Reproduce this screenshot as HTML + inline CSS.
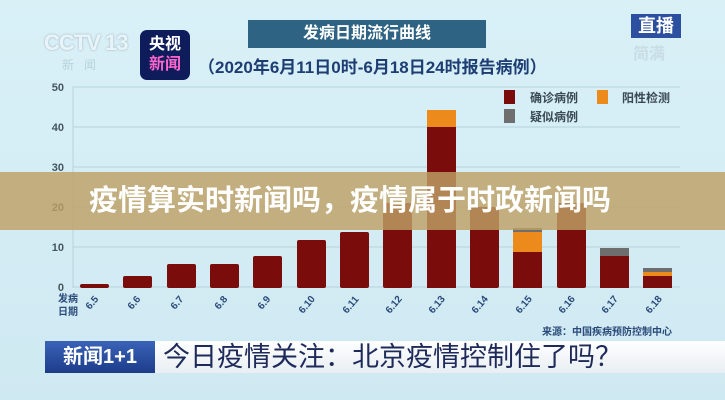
<!DOCTYPE html>
<html><head><meta charset="utf-8"><style>
body{margin:0;width:725px;height:400px;overflow:hidden;background:#d3ecf4;font-family:"Liberation Sans","Noto Sans CJK SC",sans-serif;position:relative}
.a{position:absolute}
</style></head><body>
<div class="a" style="left:0;top:0;width:725px;height:400px;background:linear-gradient(#d9f0f7,#cfe9f2)"></div>
<div class="a" style="left:44px;top:30px;color:#e8f4f8;font:bold 22px 'Liberation Sans';letter-spacing:-1px;text-shadow:0 0 2px #9ab">CCTV 13</div>
<div class="a" style="left:62px;top:56px;color:#b9d3dc;font-size:12px;letter-spacing:10px">新闻</div>
<div class="a" style="left:140px;top:30px;width:50px;height:50px;background:#0f1c5c;border-radius:7px;color:#fff;font-weight:bold;font-size:16px;line-height:20px;text-align:center;padding-top:5px;box-sizing:border-box">央视<br><span style="color:#f6c">新闻</span></div>
<div class="a" style="left:248px;top:20px;width:238px;height:28px;background:#2f6383;color:#fff;font-weight:bold;font-size:16px;line-height:28px;text-align:center">发病日期流行曲线</div>
<div class="a" style="left:198px;top:53px;color:#1d3d73;font-weight:bold;font-size:17px">（2020年6月11日0时-6月18日24时报告病例）</div>
<div class="a" style="left:631px;top:14px;width:50px;height:24px;background:#2c4fa0;color:#fff;font-weight:bold;font-size:18px;line-height:24px;text-align:center">直播</div>
<div class="a" style="left:633px;top:40px;color:#c8dde4;font-size:16px;font-weight:bold">简满</div>
<svg class="a" style="left:0;top:0" width="725" height="400">
<g stroke="#b7d3dd" stroke-width="1">
<line x1="73" y1="87" x2="680" y2="87"/><line x1="73" y1="127" x2="680" y2="127"/><line x1="73" y1="167" x2="680" y2="167"/><line x1="73" y1="207" x2="680" y2="207"/><line x1="73" y1="247" x2="680" y2="247"/><line x1="73" y1="287" x2="680" y2="287"/>
<line x1="73" y1="87" x2="73" y2="288"/></g>
<g font-size="11" fill="#44555e" font-weight="bold" text-anchor="end">
<text x="64" y="91">50</text><text x="64" y="131">40</text><text x="64" y="171">30</text><text x="64" y="211">20</text><text x="64" y="251">10</text><text x="64" y="291">0</text></g>
<g fill="#7a0c0c">
<rect x="80" y="284" width="29" height="4" rx="2"/>
<rect x="123" y="276" width="29" height="12" rx="2"/>
<rect x="167" y="264" width="29" height="24" rx="2"/>
<rect x="210" y="264" width="29" height="24" rx="2"/>
<rect x="253" y="256" width="29" height="32" rx="2"/>
<rect x="297" y="240" width="29" height="48" rx="2"/>
<rect x="340" y="232" width="29" height="56" rx="2"/>
<rect x="383" y="203" width="29" height="85" rx="2"/>
<rect x="427" y="127" width="29" height="161"/>
<rect x="470" y="207" width="29" height="81" rx="2"/>
<rect x="513" y="252" width="29" height="36"/>
<rect x="557" y="203" width="29" height="85" rx="2"/>
<rect x="600" y="256" width="29" height="32"/>
<rect x="643" y="276" width="29" height="12"/>
</g>
<rect x="427" y="110" width="29" height="17" fill="#ec8a1c"/>
<rect x="513" y="232" width="29" height="20" fill="#ec8a1c"/>
<rect x="513" y="228" width="29" height="4" fill="#6e6e6e"/>
<rect x="600" y="248" width="29" height="8" fill="#6e6e6e"/>
<rect x="643" y="272" width="29" height="4" fill="#ec8a1c"/>
<rect x="643" y="268" width="29" height="4" fill="#6e6e6e"/>
<rect x="504" y="90" width="11" height="14" fill="#7a0c0c"/><text x="530" y="102" font-size="12" font-weight="bold" fill="#3a4a55">确诊病例</text>
<rect x="597" y="90" width="11" height="14" fill="#ec8a1c"/><text x="622" y="102" font-size="12" font-weight="bold" fill="#3a4a55">阳性检测</text>
<rect x="504" y="109" width="11" height="14" fill="#6e6e6e"/><text x="530" y="121" font-size="12" font-weight="bold" fill="#3a4a55">疑似病例</text>
<g font-size="10" fill="#2a4a7a" font-weight="bold"><text x="58" y="302">发病</text><text x="58" y="315">日期</text></g>
<g font-size="10" fill="#2a4a7a" font-weight="bold">
<text transform="translate(90,310) rotate(-50)">6.5</text>
<text transform="translate(132,310) rotate(-50)">6.6</text>
<text transform="translate(175,310) rotate(-50)">6.7</text>
<text transform="translate(219,310) rotate(-50)">6.8</text>
<text transform="translate(262,310) rotate(-50)">6.9</text>
<text transform="translate(303,314) rotate(-50)">6.10</text>
<text transform="translate(347,314) rotate(-50)">6.11</text>
<text transform="translate(390,314) rotate(-50)">6.12</text>
<text transform="translate(433,314) rotate(-50)">6.13</text>
<text transform="translate(476,314) rotate(-50)">6.14</text>
<text transform="translate(520,314) rotate(-50)">6.15</text>
<text transform="translate(563,314) rotate(-50)">6.16</text>
<text transform="translate(606,314) rotate(-50)">6.17</text>
<text transform="translate(650,314) rotate(-50)">6.18</text></g>
<text x="672" y="335" font-size="10" font-weight="bold" fill="#2a4a7a" text-anchor="end">来源：中国疾病预防控制中心</text>
</svg>
<div class="a" style="left:0;top:172px;width:725px;height:58px;background:rgba(190,160,100,0.82)"></div>
<div class="a" style="left:89px;top:185px;color:#fff;font-weight:bold;font-size:29px;line-height:32px;white-space:nowrap">疫情算实时新闻吗，疫情属于时政新闻吗</div>
<div class="a" style="left:45px;top:341px;width:110px;height:32px;background:linear-gradient(#3a63b8,#1d3c8a);color:#fff;font-weight:bold;font-size:20px;line-height:32px;text-align:center">新闻1+1</div>
<div class="a" style="left:155px;top:341px;width:570px;height:32px;background:linear-gradient(#fff,#e8eef2);color:#1e2a5a;font-size:27px;line-height:32px;padding-left:8px;box-sizing:border-box;white-space:nowrap">今日疫情关注：北京疫情控制住了吗？</div>
</body></html>
